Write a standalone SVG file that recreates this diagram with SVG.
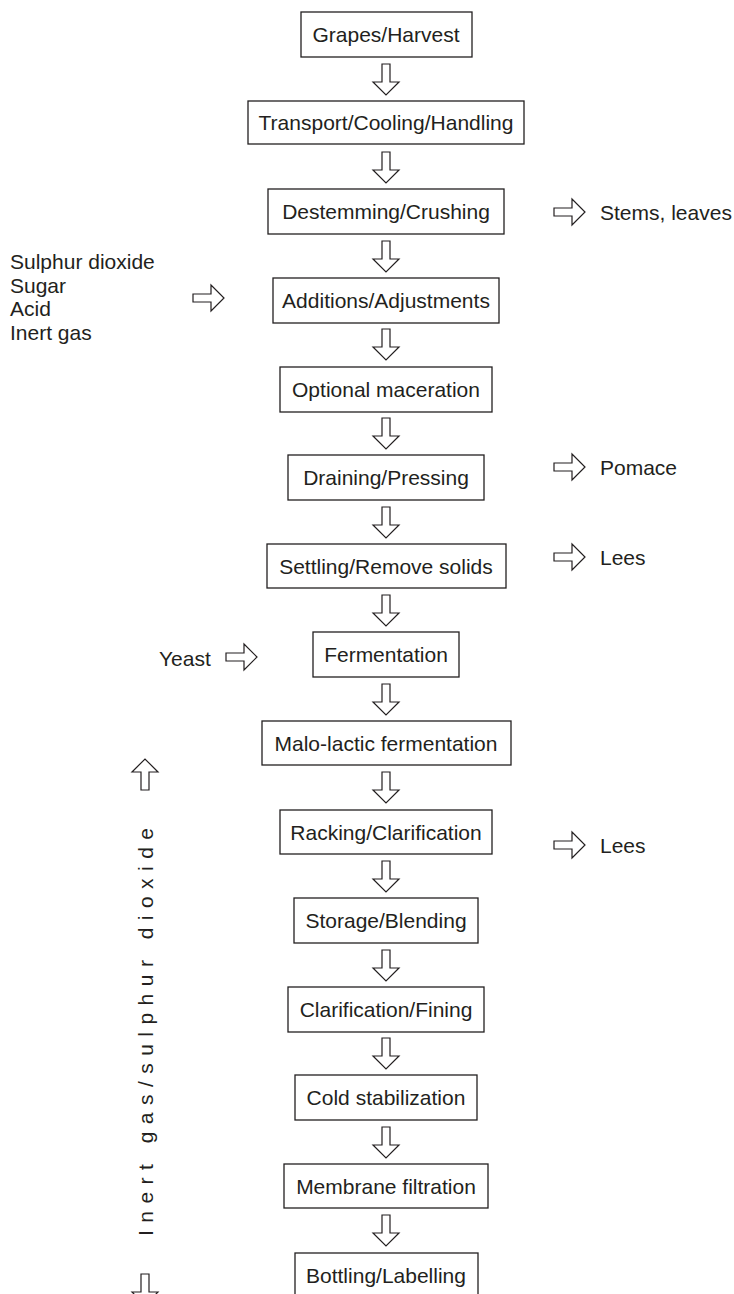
<svg xmlns="http://www.w3.org/2000/svg" width="734" height="1294" viewBox="0 0 734 1294">
<style>
.box{fill:#fff;stroke:#231f20;stroke-width:1.3}
.arr{fill:#fff;stroke:#231f20;stroke-width:1.2;stroke-linejoin:miter}
text{font-family:"Liberation Sans",Arial,sans-serif;font-size:21px;fill:#231f20}
.c{text-anchor:middle}
</style>
<defs>
<polygon id="down" class="arr" points="-4,0 4,0 4,18 13,18 0,31 -13,18 -4,18"/>
<polygon id="right" class="arr" points="0,-4 18,-4 18,-13 31,0 18,13 18,4 0,4"/>
<polygon id="up" class="arr" points="-4,31 4,31 4,13 13,13 0,0 -13,13 -4,13"/>
</defs>
<rect width="734" height="1294" fill="#fff"/>
<g id="connectors">
<use href="#down" x="386" y="64"/>
<use href="#down" x="386" y="152"/>
<use href="#down" x="386" y="241"/>
<use href="#down" x="386" y="329"/>
<use href="#down" x="386" y="418"/>
<use href="#down" x="386" y="507"/>
<use href="#down" x="386" y="595"/>
<use href="#down" x="386" y="684"/>
<use href="#down" x="386" y="772"/>
<use href="#down" x="386" y="861"/>
<use href="#down" x="386" y="950"/>
<use href="#down" x="386" y="1038"/>
<use href="#down" x="386" y="1127"/>
<use href="#down" x="386" y="1215"/>
<use href="#right" x="554" y="212"/>
<use href="#right" x="554" y="467"/>
<use href="#right" x="554" y="557"/>
<use href="#right" x="554" y="845"/>
<use href="#right" x="193" y="298"/>
<use href="#right" x="226" y="657"/>
<use href="#up" x="145" y="759"/>
<use href="#down" x="145" y="1274"/>
</g>
<g id="n1"><rect class="box" x="301" y="12" width="171" height="45"/><text class="c" x="386" y="42">Grapes/Harvest</text></g>
<g id="n2"><rect class="box" x="248" y="101" width="276" height="43"/><text class="c" x="386" y="130">Transport/Cooling/Handling</text></g>
<g id="n3"><rect class="box" x="268" y="189" width="236" height="45"/><text class="c" x="386" y="219">Destemming/Crushing</text></g>
<g id="n4"><rect class="box" x="273" y="278" width="226" height="45"/><text class="c" x="386" y="308">Additions/Adjustments</text></g>
<g id="n5"><rect class="box" x="280" y="367" width="212" height="45"/><text class="c" x="386" y="397">Optional maceration</text></g>
<g id="n6"><rect class="box" x="288" y="455" width="196" height="45"/><text class="c" x="386" y="485">Draining/Pressing</text></g>
<g id="n7"><rect class="box" x="267" y="544" width="239" height="44"/><text class="c" x="386" y="573.5">Settling/Remove solids</text></g>
<g id="n8"><rect class="box" x="313" y="632" width="146" height="45"/><text class="c" x="386" y="662">Fermentation</text></g>
<g id="n9"><rect class="box" x="262" y="721" width="249" height="44"/><text class="c" x="386" y="750.5">Malo-lactic fermentation</text></g>
<g id="n10"><rect class="box" x="280" y="810" width="212" height="44"/><text class="c" x="386" y="839.5">Racking/Clarification</text></g>
<g id="n11"><rect class="box" x="294" y="898" width="184" height="45"/><text class="c" x="386" y="928">Storage/Blending</text></g>
<g id="n12"><rect class="box" x="288" y="987" width="196" height="45"/><text class="c" x="386" y="1017">Clarification/Fining</text></g>
<g id="n13"><rect class="box" x="295" y="1075" width="182" height="45"/><text class="c" x="386" y="1105">Cold stabilization</text></g>
<g id="n14"><rect class="box" x="284" y="1164" width="204" height="44"/><text class="c" x="386" y="1193.5">Membrane filtration</text></g>
<g id="n15"><rect class="box" x="295" y="1253" width="183" height="50"/><text class="c" x="386" y="1282.5">Bottling/Labelling</text></g>
<g id="out-stems"><text x="600" y="219.5">Stems, leaves</text></g>
<g id="out-pomace"><text x="600" y="474.5">Pomace</text></g>
<g id="out-lees1"><text x="600" y="564.5">Lees</text></g>
<g id="out-lees2"><text x="600" y="852.5">Lees</text></g>
<g id="in-additions"><text x="10" y="269">Sulphur dioxide</text><text x="10" y="292.5">Sugar</text><text x="10" y="316">Acid</text><text x="10" y="339.5">Inert gas</text></g>
<g id="in-yeast"><text x="159" y="665.5">Yeast</text></g>
<g id="side-gas"><text transform="translate(152.5,1236) rotate(-90)" textLength="408" lengthAdjust="spacing">Inert gas/sulphur dioxide</text></g>
</svg>
